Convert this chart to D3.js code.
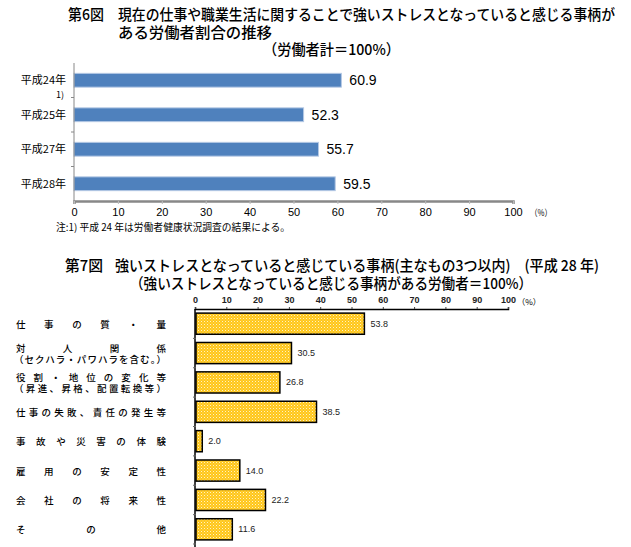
<!DOCTYPE html>
<html><head><meta charset="utf-8">
<script src="https://cdn.jsdelivr.net/npm/d3@7"></script>
<style>
body{margin:0;background:#fff;}
svg{display:block;font-family:"Noto Sans CJK JP","Noto Sans",sans-serif;}
</style></head>
<body><svg id="c" width="631" height="547"></svg>
<script>
// ---- data: chart 1 (第6図)
const years = ["平成24年","平成25年","平成27年","平成28年"];
const yearValues = [60.9, 52.3, 55.7, 59.5];
const yearNotes = ["1)", "", "", ""];
const ticks1 = [0,10,20,30,40,50,60,70,80,90,100];

// ---- data: chart 2 (第7図)
const items = ["仕事の質・量","対人関係","役割・地位の変化等","仕事の失敗、責任の発生等","事故や災害の体験","雇用の安定性","会社の将来性","その他"];
const itemSub = ["","（セクハラ・パワハラを含む。）","（昇進、昇格、配置転換等）","","","","",""];
const itemValues = [53.8, 30.5, 26.8, 38.5, 2.0, 14.0, 22.2, 11.6];
const ticks2 = [0,10,20,30,40,50,60,70,80,90,100];

const svg = d3.select("#c");

// pattern for chart 2 bars
const defs = svg.append("defs");
const pat = defs.append("pattern").attr("id","dots").attr("width",3).attr("height",3).attr("patternUnits","userSpaceOnUse");
pat.append("rect").attr("width",3).attr("height",3).attr("fill","#FFC61A");
pat.append("rect").attr("width",1).attr("height",1).attr("fill","#FFF4C4");
pat.append("rect").attr("x",1.5).attr("y",1.5).attr("width",1).attr("height",1).attr("fill","#FFE27A");

function txt(x,y,s,size,w,opts={}){
  const t = svg.append("text").attr("x",x).attr("y",y).text(s)
    .attr("font-size",size).attr("fill","#000");
  if(w){t.attr("textLength",w).attr("lengthAdjust","spacingAndGlyphs");}
  if(opts.anchor) t.attr("text-anchor",opts.anchor);
  if(opts.weight) t.attr("font-weight",opts.weight);
  return t;
}

// ---- titles chart 1
txt(68,20,"第6図",15,36,{weight:500});
txt(118,20,"現在の仕事や職業生活に関することで強いストレスとなっていると感じる事柄が",15,497,{weight:500});
txt(118,38,"ある労働者割合の推移",15,154,{weight:500});
txt(263,55,"（労働者計＝100%）",15,137,{weight:500});

// ---- chart 1
const x1 = d3.scaleLinear().domain([0,100]).range([74,513]);
const y1 = d3.scaleBand().domain(years).range([63,201]).paddingInner(0.6).paddingOuter(0.3);
const g1 = svg.append("g");
g1.selectAll("rect.b").data(years).join("rect")
  .attr("x",x1(0)).attr("y",d=>y1(d)).attr("width",(d,i)=>x1(yearValues[i])-x1(0))
  .attr("height",y1.bandwidth()).attr("fill","#4F81BD").attr("stroke","#B4C8E4").attr("stroke-width",1);
g1.selectAll("text.v").data(years).join("text")
  .attr("x",(d,i)=>x1(yearValues[i])+8).attr("y",d=>y1(d)+y1.bandwidth()/2+5)
  .attr("font-family","Liberation Sans, sans-serif").attr("font-size",14).text((d,i)=>yearValues[i].toFixed(1));
g1.selectAll("text.l").data(years).join("text")
  .attr("x",66).attr("y",d=>y1(d)+y1.bandwidth()/2+4).attr("text-anchor","end")
  .attr("font-size",11).text(d=>d);
g1.selectAll("text.n").data(years).join("text")
  .attr("x",56).attr("y",d=>y1(d)+y1.bandwidth()/2+18)
  .attr("font-size",9).text((d,i)=>yearNotes[i]);
// y axis
g1.append("line").attr("x1",74).attr("x2",74).attr("y1",63).attr("y2",201).attr("stroke","#888").attr("stroke-width",1);
const st1 = y1.step();
years.forEach((d,i)=>{ if(i>0){ const yy=y1(d)-st1*0.3; g1.append("line").attr("x1",71).attr("x2",74).attr("y1",yy).attr("y2",yy).attr("stroke","#888"); }});
// x axis
const ax1 = g1.append("g").attr("transform","translate(0,201)")
  .call(d3.axisBottom(x1).tickValues(ticks1).tickSize(3).tickFormat(d3.format("d")));
ax1.select(".domain").attr("stroke","#888").attr("stroke-width",2.5);
ax1.selectAll(".tick line").attr("stroke","#bbb");
ax1.selectAll(".tick text").attr("font-family","Liberation Sans, sans-serif").attr("font-size",11).attr("fill","#000").attr("dy","0.85em");
txt(530,216,"（%）",9,22);
txt(56,231,"注:1) 平成 24 年は労働者健康状況調査の結果による。",10,234);

// ---- titles chart 2
txt(65,271,"第7図",15,38,{weight:500});
txt(115,271,"強いストレスとなっていると感じている事柄(主なもの3つ以内)　(平成 28 年)",15,484,{weight:500});
txt(130,289,"（強いストレスとなっていると感じる事柄がある労働者＝100%）",15,402,{weight:500});

// ---- chart 2
const x2 = d3.scaleLinear().domain([0,100]).range([195,508]);
const y2 = d3.scaleBand().domain(items).range([309,544]).paddingInner(0.28).paddingOuter(0.14);
const g2 = svg.append("g");
const ax2 = g2.append("g").attr("transform","translate(0,309)")
  .call(d3.axisTop(x2).tickValues(ticks2).tickSize(2).tickFormat(d3.format("d")));
ax2.select(".domain").attr("stroke","#000").attr("stroke-width",1.5);
ax2.selectAll(".tick line").attr("stroke","#444");
ax2.selectAll(".tick text").attr("font-family","Liberation Sans, sans-serif").attr("font-size",9).attr("font-weight","bold").attr("fill","#222").attr("dy","-0.1em");
txt(517,305,"（%）",8,24);
g2.append("line").attr("x1",195).attr("x2",195).attr("y1",309).attr("y2",547).attr("stroke","#000").attr("stroke-width",1.5);
const st2 = y2.step();
items.forEach((d,i)=>{ if(i>0){ const yy=y2(d)-st2*0.14; g2.append("line").attr("x1",193).attr("x2",196).attr("y1",yy).attr("y2",yy).attr("stroke","#666"); }});
g2.append("line").attr("x1",193).attr("x2",196).attr("y1",544).attr("y2",544).attr("stroke","#666");
g2.selectAll("rect.b").data(items).join("rect")
  .attr("x",x2(0)+1).attr("y",d=>y2(d)).attr("width",(d,i)=>x2(itemValues[i])-x2(0))
  .attr("height",y2.bandwidth()).attr("fill","url(#dots)").attr("stroke","#000").attr("stroke-width",1.5);
g2.selectAll("text.v").data(items).join("text")
  .attr("x",(d,i)=>x2(itemValues[i])+7).attr("y",d=>y2(d)+y2.bandwidth()/2+3)
  .attr("font-family","Liberation Sans, sans-serif").attr("font-size",9).attr("fill","#222")
  .text((d,i)=>itemValues[i].toFixed(1));
items.forEach((d,i)=>{
  const cy = y2(d)+y2.bandwidth()/2;
  const sub = itemSub[i];
  const main = svg.append("text").attr("x",16).attr("font-size",9.5).attr("font-weight",500).text(d)
    .attr("textLength",150).attr("lengthAdjust","spacing");
  if(sub){
    main.attr("y",cy-1.5);
    svg.append("text").attr("x",14).attr("y",cy+9.5).attr("font-size",9.5).attr("font-weight",500).text(sub)
      .attr("textLength",152).attr("lengthAdjust","spacing");
  } else {
    main.attr("y",cy+4);
  }
});
</script></body></html>
